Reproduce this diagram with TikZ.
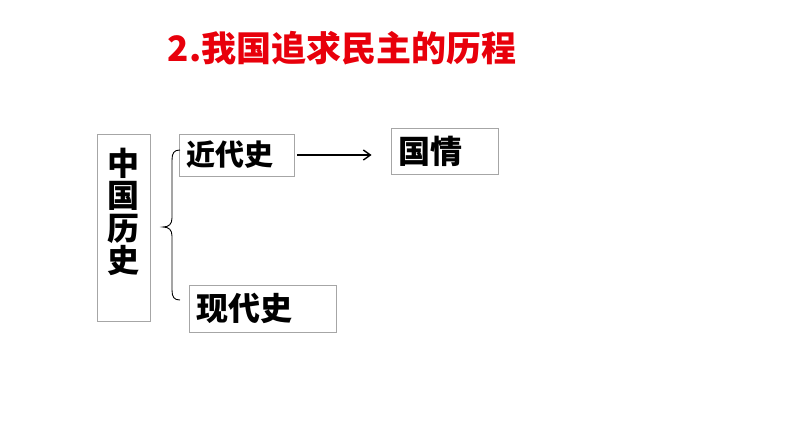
\documentclass[tikz,border=0pt]{standalone}
\usepackage{fontspec}
\newfontfamily\cjk{Noto Sans CJK SC}
\usetikzlibrary{arrows.meta}
\definecolor{frame}{HTML}{A6A6A6}
\definecolor{titlered}{HTML}{E8000B}
\begin{document}
\begin{tikzpicture}[x=1pt,y=-1pt,
  box/.style={draw=frame,line width=0.9pt,inner ysep=0pt,align=left},
  lbl/.style={font=\cjk\bfseries\fontsize{31}{33}\selectfont},
  conn/.style={line width=1.4pt,black}]
\useasboundingbox (0,0) rectangle (794,447);
\node[font=\cjk\bfseries\fontsize{35}{38}\selectfont,text=titlered,inner sep=0pt] (title) at (342,48) {2.我国追求民主的历程};
% left vertical box
\node[draw=frame,line width=0.9pt,minimum width=53,minimum height=187,inner sep=0pt] (zg) at (123.5,227.5) {};
\node[lbl,align=center,inner sep=0pt,font=\cjk\bfseries\fontsize{32}{32.5}\selectfont] (zgt) at (123.5,212) {中\\国\\历\\史};
% boxes
\node[box,lbl,font=\cjk\bfseries\fontsize{29}{31}\selectfont,minimum width=115,minimum height=42,text width=101,inner xsep=7] (jds) at (236.5,155) {近代史};
\node[box,lbl,font=\cjk\bfseries\fontsize{32}{34}\selectfont,minimum width=147,minimum height=47,text width=133,inner xsep=7] (xds) at (262.5,308.5) {现代史};
\node[box,lbl,font=\cjk\bfseries\fontsize{32}{34}\selectfont,minimum width=107,minimum height=46,text width=93,inner xsep=7] (gq) at (444.5,151) {国情};
% arrow
\draw[conn,-{Straight Barb[length=7pt,width=10pt]}] ([xshift=3pt]jds.east) -- ([xshift=-19pt,yshift=-4pt]gq.west);
% brace
\coordinate (bt) at (180,150);
\coordinate (bm) at (163,227);
\coordinate (bb) at (180,300);
\draw[line width=0.9pt] (bt) .. controls (174,150) and (172,153) .. (172,160)
  -- (172,218) .. controls (172,224) and (169,227) .. (bm)
  .. controls (169,227) and (172,230) .. (172,236)
  -- (172,290) .. controls (172,297) and (174,300) .. (bb);
\end{tikzpicture}
\end{document}
